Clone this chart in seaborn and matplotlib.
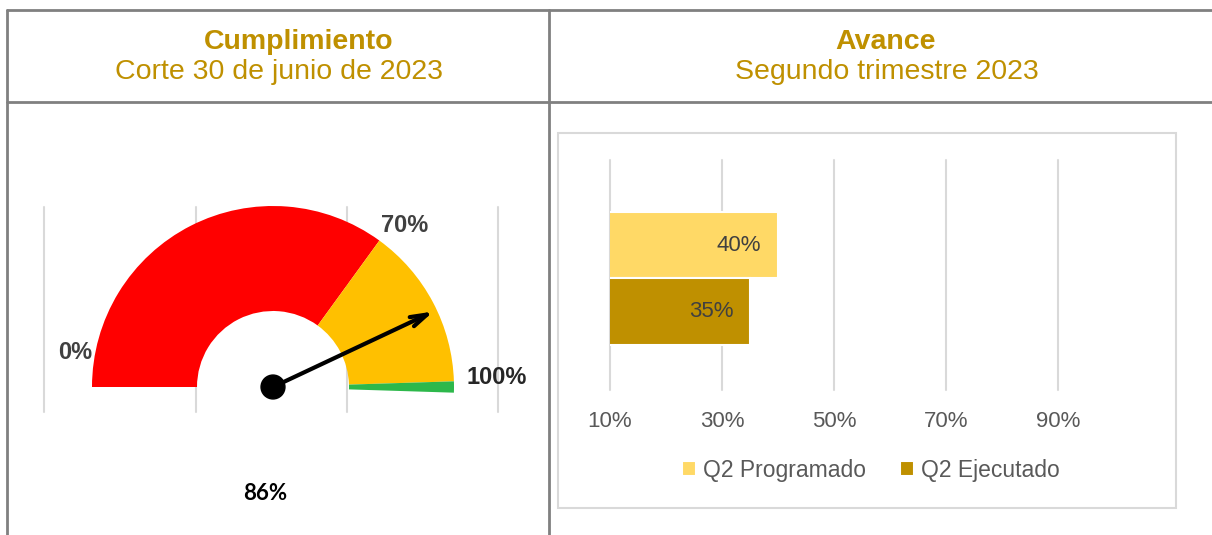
import numpy as np
import pandas as pd
import seaborn as sns
import matplotlib.pyplot as plt
from matplotlib.patches import Wedge, Circle, Rectangle
from matplotlib.ticker import PercentFormatter

sns.set_theme(style="white")
plt.rcParams["font.family"] = ["Liberation Sans", "DejaVu Sans"]

# ---- data ----
titulos = ["Cumplimiento", "Avance"]
subtitulos = ["Corte 30 de junio de 2023", "Segundo trimestre 2023"]

# gauge bands (percent) and needle value
bandas_limites = [0, 70, 99, 101]
bandas_colores = ["#FF0000", "#FFC000", "#2DB84B"]
gauge_etiquetas = ["0%", "70%", "100%"]
cumplimiento = 86

# bars
series = ["Q2 Programado", "Q2 Ejecutado"]
valores = [0.40, 0.35]
bar_colores = ["#FFD966", "#BF9000"]
ticks_x = [0.10, 0.30, 0.50, 0.70, 0.90]

GOLD = "#BF9000"
W, H = 1212, 535
fig = plt.figure(figsize=(W / 100, H / 100), dpi=100)

# ---- background table ----
bg = fig.add_axes([0, 0, 1, 1], zorder=0)
bg.set_xlim(0, W)
bg.set_ylim(H, 0)
bg.axis("off")
lc = "#808080"
bg.plot([7, W], [10, 10], color=lc, lw=2)
bg.plot([7, W], [102, 102], color=lc, lw=2)
bg.plot([7, 7], [10, H], color=lc, lw=2)
bg.plot([549, 549], [10, H], color=lc, lw=2)
for tx, sx, t, s in zip([299, 886], [279, 887], titulos, subtitulos):
    bg.text(tx, 42, t, ha="center", va="center", fontsize=20.5, fontweight="bold", color=GOLD)
    bg.text(sx, 72, s, ha="center", va="center", fontsize=20.5, color=GOLD)
bg.add_patch(Rectangle((558, 133), 618, 375, fill=False, ec="#D9D9D9", lw=1.5))
bg.text(265, 493, f"{cumplimiento}%", ha="center", va="center", fontsize=16,
        fontweight="bold", color="black", family=["Lato", "DejaVu Sans"])

# ---- gauge ----
cx0, cy0, R = 273, 387, 181
gx0, gx1, gy0, gy1 = 30, 520, 190, 430
ax_g = fig.add_axes([gx0 / W, (H - gy1) / H, (gx1 - gx0) / W, (gy1 - gy0) / H], zorder=1)
ax_g.set_xlim((gx0 - cx0) / R, (gx1 - cx0) / R)
ax_g.set_ylim((cy0 - gy1) / R, (cy0 - gy0) / R)
ax_g.axis("off")

for gx in [-1.265, -0.425, 0.409, 1.243]:
    ax_g.plot([gx, gx], [-0.138, 0.994], color="#D9D9D9", lw=1.5, zorder=0)

def ang(v):
    return 180 * (1 - v / 100)

r_in = 76 / R
for a, b, c in zip(bandas_limites[:-1], bandas_limites[1:], bandas_colores):
    ax_g.add_patch(Wedge((0, 0), 1.0, ang(b), ang(a), width=1 - r_in, color=c, lw=0, zorder=2))

t = np.deg2rad(ang(cumplimiento))
ax_g.annotate("", xy=(0.98 * np.cos(t), 0.98 * np.sin(t)), xytext=(0, 0),
              arrowprops=dict(arrowstyle="->,head_length=1.0,head_width=0.3", lw=3,
                              color="black", shrinkA=0, shrinkB=0), zorder=4)
ax_g.add_patch(Circle((0, 0), 0.066, color="black", zorder=5))

lab_pos = [(-1.094, 0.188), (0.729, 0.890), (1.238, 0.055)]
lab_col = ["#404040", "#404040", "#262626"]
for (x, y), s, c in zip(lab_pos, gauge_etiquetas, lab_col):
    ax_g.text(x, y, s, ha="center", va="center", fontsize=17, fontweight="bold", color=c)

# ---- bars ----
bx0, bx1, by0, by1 = 610, 1114, 160, 390
ax_b = fig.add_axes([bx0 / W, (H - by1) / H, (bx1 - bx0) / W, (by1 - by0) / H], zorder=1)
df = pd.DataFrame({"trimestre": ["Q2"] * 2, "serie": series, "valor": valores})
sns.barplot(data=df, x="valor", y="trimestre", hue="serie", palette=bar_colores,
            saturation=1, orient="h", width=0.58, edgecolor="white", linewidth=1.5, ax=ax_b)
ax_b.set_xlim(0.10, 1.0)
ax_b.set_ylim(0.485, -0.515)
ax_b.set_xticks(ticks_x)
ax_b.xaxis.set_major_formatter(PercentFormatter(1.0, decimals=0))
ax_b.grid(axis="x", color="#D9D9D9", lw=1.5)
for gl in ax_b.get_xgridlines():
    gl.set_clip_on(False)
ax_b.set_axisbelow(True)
for sp in ax_b.spines.values():
    sp.set_visible(False)
ax_b.set_yticks([])
ax_b.set_xlabel("")
ax_b.set_ylabel("")
ax_b.tick_params(axis="x", length=0, pad=15, labelsize=16, labelcolor="#595959")

for cont, v in zip(ax_b.containers, valores):
    p = cont.patches[0]
    ax_b.annotate(f"{v:.0%}", xy=(v, p.get_y() + p.get_height() / 2), xytext=(-12, 0),
                  textcoords="offset points", ha="right", va="center",
                  fontsize=16, color="#404040")

ax_b.legend(loc="center", bbox_to_anchor=(0.517, -0.348), ncol=2, frameon=False,
            handlelength=0.6, handleheight=0.6, handletextpad=0.3, columnspacing=1.5,
            fontsize=16.5, labelcolor="#595959")

fig.savefig("out.png", dpi=100)
